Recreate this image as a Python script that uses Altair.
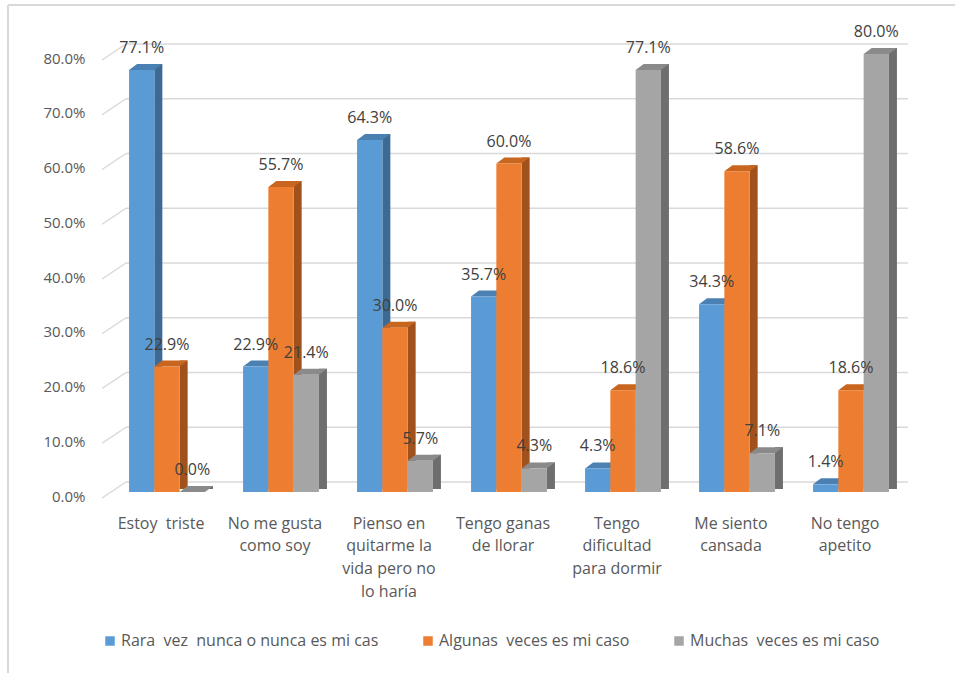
import json
import altair as alt
import pandas as pd

CATEGORIES = [
    "Estoy  triste",
    "No me gusta como soy",
    "Pienso en quitarme la vida pero no lo haría",
    "Tengo ganas de llorar",
    "Tengo dificultad para dormir",
    "Me siento cansada",
    "No tengo apetito",
]
CATEGORY_LINES = [
    ["Estoy  triste"],
    ["No me gusta", "como soy"],
    ["Pienso en", "quitarme la", "vida pero no", "lo haría"],
    ["Tengo ganas", "de llorar"],
    ["Tengo", "dificultad", "para dormir"],
    ["Me siento", "cansada"],
    ["No tengo", "apetito"],
]
SERIES = [
    "Rara  vez  nunca o nunca es mi cas",
    "Algunas  veces es mi caso",
    "Muchas  veces es mi caso",
]
RARA = [77.1, 22.9, 64.3, 35.7, 4.3, 34.3, 1.4]
ALGUNAS = [22.9, 55.7, 30.0, 60.0, 18.6, 58.6, 18.6]
MUCHAS = [0.0, 21.4, 5.7, 4.3, 77.1, 7.1, 80.0]
Y_TICKS = [0, 10, 20, 30, 40, 50, 60, 70, 80]

FRONT = ["#5B9BD5", "#ED7D31", "#A5A5A5"]
TOP = ["#4A80B2", "#C8651F", "#8A8A8A"]
SIDE = ["#3C6A94", "#A0511C", "#6E6E6E"]

FONT = "Open Sans"
BAR_W = 25.3
DEPTH_X = 8
DEPTH_Y = 6
W, H = 806, 438
PAD = {"left": 102, "top": 54, "right": 47, "bottom": 181}
NBSP = "\u00a0"

rows = []
for s, vals in zip(SERIES, [RARA, ALGUNAS, MUCHAS]):
    for c, v in zip(CATEGORIES, vals):
        rows.append({"category": c, "series": s, "value": v})
df = pd.DataFrame(rows)
grid_df = pd.DataFrame({"value": Y_TICKS})
one = pd.DataFrame({"k": [0]})

# keep double spaces visible in SVG text
display_lines = [[ln.replace("  ", " " + NBSP) for ln in lines] for lines in CATEGORY_LINES]
label_map = json.dumps(dict(zip(CATEGORIES, display_lines)), ensure_ascii=False)

x_scale = alt.Scale(domain=CATEGORIES, range=[8, W], paddingInner=0, paddingOuter=0)
y_scale = alt.Scale(domain=[0, 80], nice=False, zero=True)

x_axis = alt.Axis(
    title=None, labelExpr=f"{label_map}[datum.label]", labelFont=FONT,
    labelFontSize=16, labelColor="#595959", labelLineHeight=22.7,
    labelPadding=23, labelOffset=-6, labelAngle=0, ticks=False,
    domain=False, grid=False, labelLimit=200,
)
y_axis = alt.Axis(
    title=None, values=Y_TICKS, labelExpr="format(datum.value, '.1f') + '%'",
    labelFont=FONT, labelFontSize=15, labelColor="#595959", labelPadding=17,
    labelOffset=4, ticks=False, domain=False, grid=False,
)

def X():
    return alt.X("category:N", sort=CATEGORIES, scale=x_scale, axis=x_axis)

def Yv():
    return alt.Y("value:Q", scale=y_scale, axis=y_axis, stack=None)

layers = []

# chart frame
layers.append(alt.Chart(one).mark_rule(color="#D9D9D9", strokeWidth=2).encode(
    x=alt.value(-94), y=alt.value(-49), y2=alt.value(673 - PAD["top"])))
layers.append(alt.Chart(one).mark_rule(color="#D9D9D9", strokeWidth=2).encode(
    x=alt.value(-94), x2=alt.value(W + PAD["right"]), y=alt.value(-49)))

# back-wall gridlines
layers.append(alt.Chart(grid_df).mark_rule(color="#D9D9D9", strokeWidth=1.5, yOffset=-10).encode(
    y=Yv(), x=alt.value(24), x2=alt.value(W)))
layers.append(alt.Chart(grid_df).mark_rule(color="#D9D9D9", strokeWidth=1.5, yOffset=6, y2Offset=-10).encode(
    y=Yv(), y2=alt.Y2("value:Q"), x=alt.value(0), x2=alt.value(24)))

TOP_PATH = "M -1 0.1802 L -0.5195 -0.1802 L 1 -0.1802 L 0.5195 0.1802 Z"
legend = alt.Legend(
    title=None, orient="none", legendX=0, legendY=579, direction="horizontal",
    symbolType="square", symbolSize=90, symbolStrokeWidth=0, labelFont=FONT,
    labelFontSize=16, labelColor="#595959", columnPadding=41, labelOffset=3,
    padding=0, labelLimit=0,
    labelExpr=f"replace(datum.label, regexp('  ', 'g'), ' {NBSP}')",
)

for i, s in enumerate(SERIES):
    off = (i - 1) * BAR_W
    base = alt.Chart(df).transform_filter(alt.datum.series == s)
    layers.append(base.mark_bar(width=DEPTH_X, xOffset=off + BAR_W / 2 + DEPTH_X / 2,
                                yOffset=-DEPTH_Y, y2Offset=-DEPTH_Y / 2, color=SIDE[i]).encode(
        x=X(), y=Yv(), y2=alt.datum(0)))
for i, s in enumerate(SERIES):
    off = (i - 1) * BAR_W
    base = alt.Chart(df).transform_filter(alt.datum.series == s)
    layers.append(base.mark_point(shape=TOP_PATH, filled=True, size=(BAR_W + DEPTH_X) ** 2,
                                  color=TOP[i], opacity=1, strokeWidth=0,
                                  xOffset=off + DEPTH_X / 2, yOffset=-DEPTH_Y / 2).encode(
        x=X(), y=Yv()))
for i, s in enumerate(SERIES):
    off = (i - 1) * BAR_W
    base = alt.Chart(df).transform_filter(alt.datum.series == s)
    layers.append(base.mark_bar(width=BAR_W, xOffset=off).encode(
        x=X(), y=Yv(),
        color=alt.Color("series:N", scale=alt.Scale(domain=SERIES, range=FRONT), legend=legend)))
for i, s in enumerate(SERIES):
    off = (i - 1) * BAR_W
    base = alt.Chart(df).transform_filter(alt.datum.series == s)
    layers.append(base.transform_calculate(lbl="format(datum.value, '.1f') + '%'").mark_text(
        dx=off, dy=-17, baseline="alphabetic", align="center",
        font=FONT, fontSize=16, color="#404040").encode(
        x=X(), y=Yv(), text="lbl:N"))

chart = alt.layer(*layers).properties(
    width=W, height=H, autosize=alt.AutoSizeParams(type="none"), padding=PAD,
    background="white",
).configure_view(stroke=None)

chart.save("out.html", embed_options={"renderer": "svg", "actions": False})
